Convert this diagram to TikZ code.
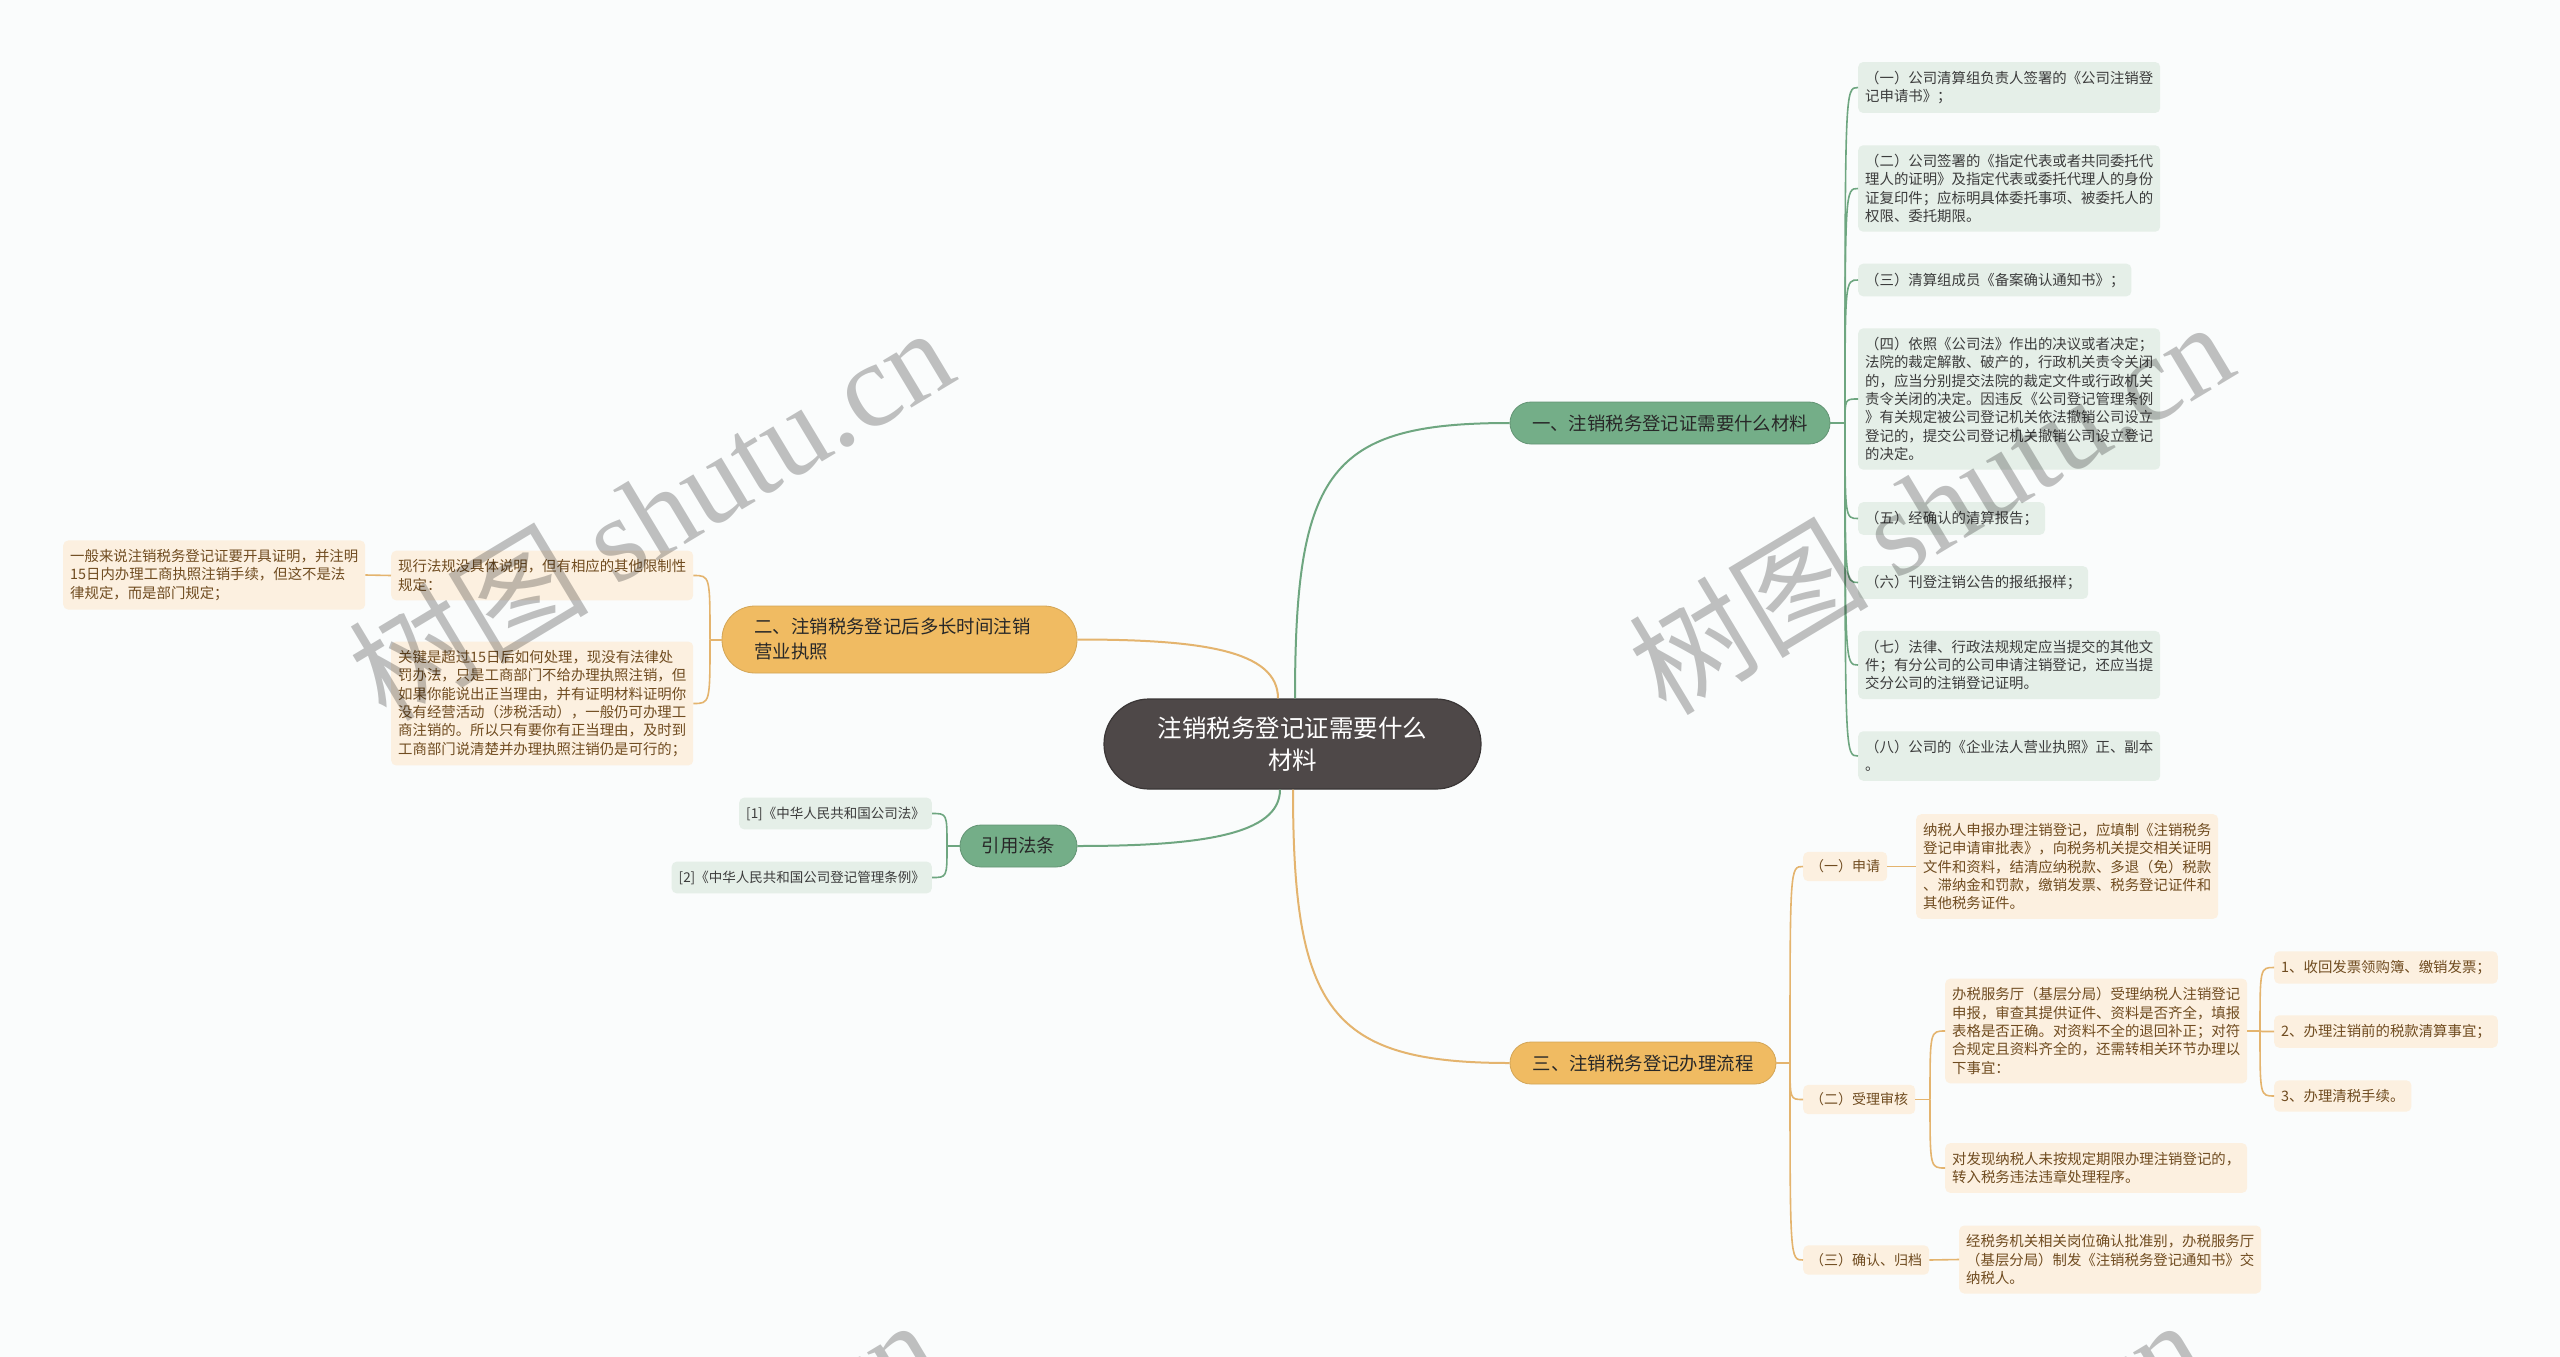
\documentclass[tikz,border=0pt]{standalone}
\usepackage{fontspec}
\setmainfont{Noto Sans CJK SC}
\newfontfamily\wmlat{Liberation Serif}
\pgfdeclarelayer{bglayer}
\pgfsetlayers{bglayer,main}
\definecolor{bgc}{RGB}{250,252,252}
\definecolor{gfill}{RGB}{116,174,136}
\definecolor{gline}{RGB}{110,166,128}
\definecolor{gleaf}{RGB}{229,239,232}
\definecolor{gtext}{RGB}{60,60,60}
\definecolor{ofill}{RGB}{240,187,98}
\definecolor{oline}{RGB}{228,180,110}
\definecolor{oleaf}{RGB}{252,240,224}
\definecolor{otext}{RGB}{112,76,32}
\definecolor{cfill}{RGB}{78,72,72}
\definecolor{btext}{RGB}{40,40,40}
\newcommand{\lffont}{\fontsize{14.4}{18.3}\selectfont}
\tikzset{
  central/.style={fill=cfill, draw=cfill!75!black, line width=1.2pt, rounded corners=45pt,
    minimum width=377pt, minimum height=90pt, text=white, align=center,
    font=\fontsize{24.5}{32}\selectfont},
  gbranch/.style={fill=gfill, draw=gfill!85!black, line width=0.8pt, rounded corners=21pt,
    minimum height=42pt, text=btext, font=\fontsize{18.4}{25}\selectfont},
  obranch/.style={fill=ofill, draw=ofill!88!black, line width=0.8pt, rounded corners=21pt,
    minimum height=42pt, text=btext, font=\fontsize{18.4}{25}\selectfont},
  gleafs/.style={fill=gleaf, rounded corners=5pt, inner xsep=7pt, inner ysep=9pt,
    text=gtext, align=left, font=\lffont},
  oleafs/.style={fill=oleaf, rounded corners=5pt, inner xsep=7pt, inner ysep=9pt,
    text=otext, align=left, font=\lffont},
  glink/.style={draw=gline, line width=2pt},
  olink/.style={draw=oline, line width=2pt},
  wm/.style={text=black, text opacity=0.24, rotate=31, font=\fontsize{120}{125}\selectfont}
}
\begin{document}
\begin{tikzpicture}[x=1pt,y=-1pt]
\begin{pgfonlayer}{bglayer}
\fill[bgc] (0,0) rectangle (2560,1357);
\end{pgfonlayer}
\useasboundingbox (0,0) rectangle (2560,1357);
\clip (0,0) rectangle (2560,1357);

% central
\node[central] (c) at (1292.5,744) {注销税务登记证需要什么\\材料};

% branches
\node[gbranch, minimum width=320pt] (b1) at (1670,423) {一、注销税务登记证需要什么材料};
\node[obranch, minimum height=67pt, text width=290pt, inner xsep=32.5pt, align=left, rounded corners=33pt] (b2) at (899.5,639.5) {二、注销税务登记后多长时间注销\\营业执照};
\node[gbranch, minimum width=117pt] (b3) at (1018.5,846) {引用法条};
\node[obranch, minimum width=266pt] (b4) at (1643,1063) {三、注销税务登记办理流程};

% green leaves of b1
\node[gleafs, anchor=west] (g1) at (1858,87.5) {（一）公司清算组负责人签署的《公司注销登\\记申请书》；};
\node[gleafs, anchor=west] (g2) at (1858,188.5) {（二）公司签署的《指定代表或者共同委托代\\理人的证明》及指定代表或委托代理人的身份\\证复印件；应标明具体委托事项、被委托人的\\权限、委托期限。};
\node[gleafs, anchor=west] (g3) at (1858,280) {（三）清算组成员《备案确认通知书》；};
\node[gleafs, anchor=west] (g4) at (1858,399) {（四）依照《公司法》作出的决议或者决定；\\法院的裁定解散、破产的，行政机关责令关闭\\的，应当分别提交法院的裁定文件或行政机关\\责令关闭的决定。因违反《公司登记管理条例\\》有关规定被公司登记机关依法撤销公司设立\\登记的，提交公司登记机关撤销公司设立登记\\的决定。};
\node[gleafs, anchor=west] (g5) at (1858,518.5) {（五）经确认的清算报告；};
\node[gleafs, anchor=west] (g6) at (1858,582.5) {（六）刊登注销公告的报纸报样；};
\node[gleafs, anchor=west] (g7) at (1858,665) {（七）法律、行政法规规定应当提交的其他文\\件；有分公司的公司申请注销登记，还应当提\\交分公司的注销登记证明。};
\node[gleafs, anchor=west] (g8) at (1858,756) {（八）公司的《企业法人营业执照》正、副本\\。};

% orange leaves of b2
\node[oleafs, anchor=west] (oa) at (391,575.5) {现行法规没具体说明，但有相应的其他限制性\\规定：};
\node[oleafs, anchor=west] (ob) at (391,703.5) {关键是超过15日后如何处理，现没有法律处\\罚办法，只是工商部门不给办理执照注销，但\\如果你能说出正当理由，并有证明材料证明你\\没有经营活动（涉税活动），一般仍可办理工\\商注销的。所以只有要你有正当理由，及时到\\工商部门说清楚并办理执照注销仍是可行的；};
\node[oleafs, anchor=west] (ol) at (63,575) {一般来说注销税务登记证要开具证明，并注明\\15日内办理工商执照注销手续，但这不是法\\律规定，而是部门规定；};

% green leaves of b3
\node[gleafs, anchor=east, font=\fontsize{13.5}{17}\selectfont] (r1) at (932,813.5) {[1]《中华人民共和国公司法》};
\node[gleafs, anchor=east, font=\fontsize{13.5}{17}\selectfont] (r2) at (932,877.5) {[2]《中华人民共和国公司登记管理条例》};

% orange leaves of b4
\node[oleafs, anchor=west, font=\fontsize{14}{18}\selectfont, inner ysep=8pt] (s1) at (1803,866.5) {（一）申请};
\node[oleafs, anchor=west] (d1) at (1916,866.5) {纳税人申报办理注销登记，应填制《注销税务\\登记申请审批表》，向税务机关提交相关证明\\文件和资料，结清应纳税款、多退（免）税款\\、滞纳金和罚款，缴销发票、税务登记证件和\\其他税务证件。};
\node[oleafs, anchor=west, font=\fontsize{14}{18}\selectfont, inner ysep=8pt] (s2) at (1803,1099.5) {（二）受理审核};
\node[oleafs, anchor=west] (d2) at (1945,1031) {办税服务厅（基层分局）受理纳税人注销登记\\申报，审查其提供证件、资料是否齐全，填报\\表格是否正确。对资料不全的退回补正；对符\\合规定且资料齐全的，还需转相关环节办理以\\下事宜：};
\node[oleafs, anchor=west] (d3) at (1945,1168) {对发现纳税人未按规定期限办理注销登记的，\\转入税务违法违章处理程序。};
\node[oleafs, anchor=west] (e1) at (2274,967.5) {1、收回发票领购簿、缴销发票；};
\node[oleafs, anchor=west] (e2) at (2274,1031.5) {2、办理注销前的税款清算事宜；};
\node[oleafs, anchor=west] (e3) at (2274,1096) {3、办理清税手续。};
\node[oleafs, anchor=west, font=\fontsize{14}{18}\selectfont, inner ysep=8pt] (s3) at (1803,1260) {（三）确认、归档};
\node[oleafs, anchor=west] (f1) at (1959,1259.5) {经税务机关相关岗位确认批准别，办税服务厅\\（基层分局）制发《注销税务登记通知书》交\\纳税人。};

% junction points
\coordinate (j1) at (1845,423);
\coordinate (j2) at (710,639.5);
\coordinate (j3) at (947,846);
\coordinate (j4) at (1790,1063);
\coordinate (j5) at (1930,1099.5);
\coordinate (j6) at (2260,1031);

% central to branches
\draw[glink] ([xshift=2.5pt]c.north) .. controls (1295,470) and (1330,423) .. (b1.west);
\draw[olink] ([xshift=-14.5pt]c.north) .. controls (1278,650) and (1200,639.5) .. (b2.east);
\draw[glink] ([xshift=-12.5pt]c.south) .. controls (1280,835) and (1200,846) .. (b3.east);
\draw[olink] ([xshift=0.5pt]c.south) .. controls (1293,1010) and (1330,1063) .. (b4.west);

% b1 to leaves
\draw[glink] (b1.east) -- (j1);
\foreach \n in {g1,g2,g3,g4,g5,g6,g7,g8}
  \draw[glink, line width=1.6pt] (j1) .. controls (j1 |- \n.west) .. (\n.west);

% b2 to leaves
\draw[olink] (b2.west) -- (j2);
\foreach \n in {oa,ob}
  \draw[olink, line width=1.6pt] (j2) .. controls (j2 |- \n.east) .. (\n.east);
\draw[olink, line width=1.6pt] (oa.west) -- (ol.east);

% b3 to leaves
\draw[glink] (b3.west) -- (j3);
\foreach \n in {r1,r2}
  \draw[glink, line width=1.6pt] (j3) .. controls (j3 |- \n.east) .. (\n.east);

% b4 to leaves
\draw[olink] (b4.east) -- (j4);
\foreach \n in {s1,s2,s3}
  \draw[olink, line width=1.6pt] (j4) .. controls (j4 |- \n.west) .. (\n.west);
\draw[olink, line width=1.6pt] (s1.east) -- (d1.west);
\draw[olink, line width=1.6pt] (s2.east) -- (j5);
\foreach \n in {d2,d3}
  \draw[olink, line width=1.6pt] (j5) .. controls (j5 |- \n.west) .. (\n.west);
\draw[olink, line width=1.6pt] (d2.east) -- (j6);
\foreach \n in {e1,e2,e3}
  \draw[olink, line width=1.6pt] (j6) .. controls (j6 |- \n.west) .. (\n.west);
\draw[olink, line width=1.6pt] (s3.east) -- (f1.west);

% watermarks
\node[wm] (w1) at (650,512) {树图 {\wmlat shutu.cn}};
\node[wm] (w2) at (1930,506) {树图 {\wmlat shutu.cn}};
\node[wm] (w3) at (634,1504) {树图 {\wmlat shutu.cn}};
\node[wm] (w4) at (1900,1504) {树图 {\wmlat shutu.cn}};
\end{tikzpicture}
\end{document}
